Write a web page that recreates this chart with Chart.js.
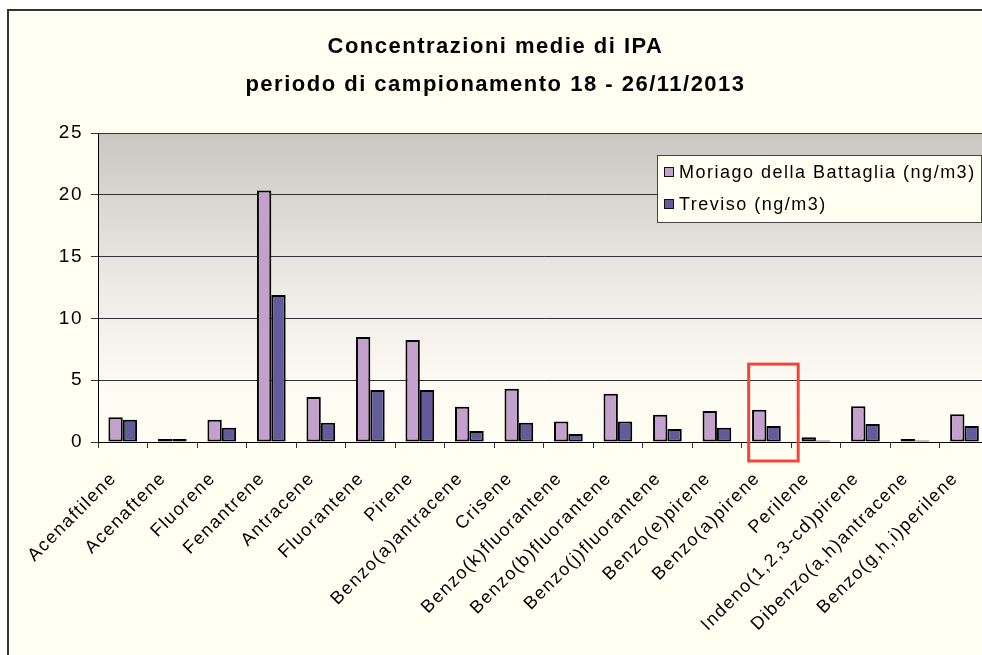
<!DOCTYPE html>
<html><head><meta charset="utf-8">
<script src="https://cdn.jsdelivr.net/npm/chart.js@4.4.1/dist/chart.umd.min.js"></script>
<style>
html,body{margin:0;padding:0;background:#fff;overflow:hidden;width:982px;height:655px}
canvas{position:absolute;left:0;top:0}
</style></head>
<body><canvas id="c" width="1000" height="655"></canvas>
<script>
const categories = ['Acenaftilene','Acenaftene','Fluorene','Fenantrene','Antracene','Fluorantene','Pirene','Benzo(a)antracene','Crisene','Benzo(k)fluorantene','Benzo(b)fluorantene','Benzo(j)fluorantene','Benzo(e)pirene','Benzo(a)pirene','Perilene','Indeno(1,2,3-cd)pirene','Dibenzo(a,h)antracene','Benzo(g,h,i)perilene'];
const moriagoValues = [2.0, 0.25, 1.8, 20.35, 3.65, 8.5, 8.25, 2.85, 4.3, 1.65, 3.9, 2.2, 2.5, 2.6, 0.38, 2.9, 0.25, 2.25];
const trevisoValues = [1.8, 0.25, 1.15, 11.9, 1.55, 4.2, 4.2, 0.9, 1.55, 0.65, 1.65, 1.05, 1.15, 1.3, 0.13, 1.45, 0.13, 1.3];
const seriesLabels = ['Moriago della Battaglia (ng/m3)', 'Treviso (ng/m3)'];
const seriesColors = ['#C4A0CC', '#635C9A'];
const yTicks = [0, 5, 10, 15, 20, 25];
const titleLines = ['Concentrazioni medie di IPA', 'periodo di campionamento 18 - 26/11/2013'];
const highlightCategory = 'Benzo(a)pirene';
const highlightTopValue = 6.3;

const FONT = "'Liberation Sans', Arial, sans-serif";
const LS = '1.5px';

const spacingPlugin = {
  id: 'spacing',
  beforeLayout(chart) { chart.ctx.letterSpacing = LS; },
  beforeDraw(chart) { chart.ctx.letterSpacing = LS; }
};

const backgroundPlugin = {
  id: 'bg',
  beforeDraw(chart) {
    const ctx = chart.ctx, a = chart.chartArea;
    ctx.save();
    ctx.fillStyle = '#ffffff';
    ctx.fillRect(0, 0, chart.width, chart.height);
    ctx.fillStyle = '#FFFFF2';
    ctx.fillRect(8, 11, chart.width, chart.height);
    ctx.strokeStyle = '#333';
    ctx.lineWidth = 2;
    ctx.beginPath();
    ctx.moveTo(8, chart.height + 2); ctx.lineTo(8, 10); ctx.lineTo(chart.width + 2, 10);
    ctx.stroke();
    const g = ctx.createLinearGradient(0, a.top, 0, a.bottom);
    g.addColorStop(0, '#CAC7C2');
    g.addColorStop(0.5, '#EDEBE6');
    g.addColorStop(0.85, '#FEFCF3');
    g.addColorStop(1, '#FFFEF2');
    ctx.fillStyle = g;
    ctx.fillRect(a.left, a.top, a.right - a.left, a.bottom - a.top);
    ctx.restore();
  }
};

const legendPlugin = {
  id: 'customLegend',
  afterDraw(chart) {
    const ctx = chart.ctx;
    ctx.save();
    ctx.letterSpacing = LS;
    const x0 = 657, y0 = 155, w = 324, h = 67;
    ctx.fillStyle = '#FFFFF2';
    ctx.fillRect(x0, y0, w, h);
    ctx.strokeStyle = '#444';
    ctx.lineWidth = 1;
    ctx.strokeRect(x0 + 0.5, y0 + 0.5, w, h);
    ctx.font = '18px ' + FONT;
    ctx.textBaseline = 'middle';
    chart.data.datasets.forEach((ds, i) => {
      const cy = y0 + 17 + i * 32;
      ctx.fillStyle = ds.backgroundColor;
      ctx.fillRect(664, cy - 5, 10, 10);
      ctx.strokeStyle = '#111';
      ctx.strokeRect(664.5, cy - 4.5, 9, 9);
      ctx.fillStyle = '#000';
      ctx.fillText(ds.label, 679, cy + 1);
    });
    ctx.restore();
  }
};

const highlightPlugin = {
  id: 'highlight',
  afterDraw(chart) {
    const xs = chart.scales.x, ys = chart.scales.y;
    const idx = categories.indexOf(highlightCategory);
    const cw = (xs.right - xs.left) / categories.length;
    const cx = xs.getPixelForValue(idx) + 7;
    const ctx = chart.ctx;
    ctx.save();
    ctx.strokeStyle = '#F2463A';
    ctx.lineWidth = 3;
    const top = ys.getPixelForValue(highlightTopValue);
    ctx.strokeRect(cx - cw / 2, top, cw, ys.bottom + 19 - top);
    ctx.restore();
  }
};

new Chart(document.getElementById('c'), {
  type: 'bar',
  data: {
    labels: categories,
    datasets: [
      { label: seriesLabels[0], data: moriagoValues, backgroundColor: seriesColors[0], borderColor: '#000', borderWidth: 2, borderSkipped: false },
      { label: seriesLabels[1], data: trevisoValues, backgroundColor: seriesColors[1], borderColor: '#000', borderWidth: 2, borderSkipped: false }
    ]
  },
  options: {
    responsive: false,
    animation: false,
    devicePixelRatio: 1,
    layout: { padding: { left: 0, right: 9, top: 0, bottom: 0 } },
    datasets: { bar: { categoryPercentage: 0.58, barPercentage: 1.0 } },
    plugins: {
      legend: { display: false },
      tooltip: { enabled: false },
      title: {
        display: true,
        text: titleLines,
        color: '#000',
        font: { family: FONT, size: 22, weight: 'bold', lineHeight: 38 / 22 },
        padding: { top: 28, bottom: 29 }
      }
    },
    scales: {
      x: {
        grid: { display: true, offset: true, drawOnChartArea: false, tickLength: 6, color: '#333', tickColor: '#333' },
        border: { display: true, color: '#000', width: 1 },
        ticks: { autoSkip: false, minRotation: 45, maxRotation: 45, color: '#000', font: { family: FONT, size: 18 }, padding: 20, labelOffset: -9 },
        afterFit(s) { s.height = 213; }
      },
      y: {
        min: 0, max: 25,
        afterBuildTicks(s) { s.ticks = yTicks.map(v => ({ value: v })); },
        grid: { color: '#333', tickLength: 7, tickColor: '#333', lineWidth: 1 },
        border: { display: true, color: '#000', width: 1 },
        ticks: { color: '#000', font: { family: FONT, size: 19 }, padding: 8 },
        afterFit(s) { s.width = 98; }
      }
    }
  },
  plugins: [spacingPlugin, backgroundPlugin, legendPlugin, highlightPlugin]
});
</script>
</body></html>
